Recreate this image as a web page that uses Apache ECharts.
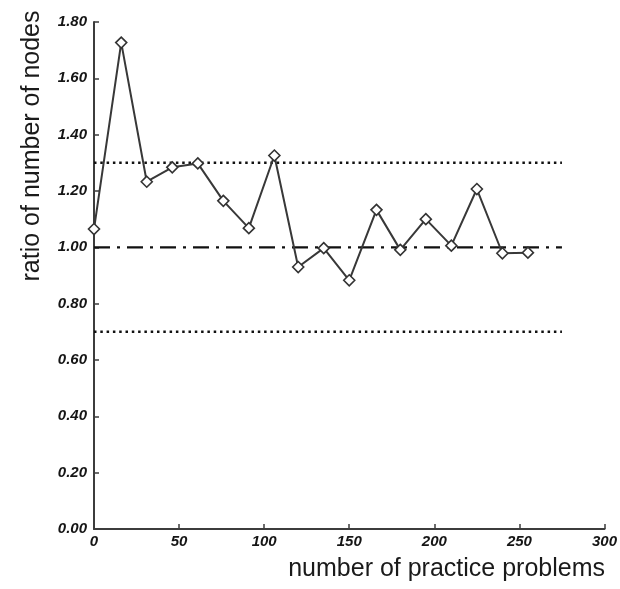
<!DOCTYPE html>
<html>
<head>
<meta charset="utf-8">
<script src="https://cdn.jsdelivr.net/npm/echarts@6/dist/echarts.min.js"></script>
<style>
  html, body { margin: 0; padding: 0; background: #fff; }
  #chart { width: 620px; height: 589px; }
</style>
</head>
<body>
<div id="chart"></div>
<script>
// Practice problems solved (x) and node-count ratio (y)
const practiceProblems = [0, 16, 31, 46, 61, 76, 91, 106, 120, 135, 150, 166, 180, 195, 210, 225, 240, 255];
const nodeRatio = [1.065, 1.727, 1.233, 1.284, 1.298, 1.165, 1.068, 1.326, 0.930, 0.997, 0.883, 1.133, 0.991, 1.100, 1.006, 1.207, 0.979, 0.981];

// Reference levels drawn across the measured range
const refStart = 0;
const refEnd = 275;
const upperBound = 1.3;
const baseline = 1.0;
const lowerBound = 0.7;

const xTicks = { min: 0, max: 300, interval: 50 };
const yTicks = { min: 0, max: 1.8, interval: 0.2 };

const axisColor = '#3c3c3c';
const labelFont = {
  fontFamily: '"Liberation Sans", Arial, Helvetica, sans-serif',
  fontSize: 15,
  fontWeight: 'bold',
  fontStyle: 'italic',
  color: '#151515'
};

const chart = echarts.init(document.getElementById('chart'));

function refLine(y, dash, width) {
  return {
    type: 'line',
    data: [[refStart, y], [refEnd, y]],
    symbol: 'none',
    silent: true,
    lineStyle: { color: '#111111', width: width, type: dash },
    z: 1
  };
}

chart.setOption({
  backgroundColor: '#fff',
  animation: false,
  grid: { left: 94, right: 13, top: 22, bottom: 60, containLabel: false },
  xAxis: {
    type: 'value',
    min: xTicks.min,
    max: xTicks.max,
    interval: xTicks.interval,
    axisLine: { show: true, lineStyle: { color: axisColor, width: 2 } },
    axisTick: { show: true, inside: true, length: 5, lineStyle: { color: axisColor, width: 1.5 } },
    axisLabel: Object.assign({ margin: 5 }, labelFont),
    splitLine: { show: false }
  },
  yAxis: {
    type: 'value',
    min: yTicks.min,
    max: yTicks.max,
    interval: yTicks.interval,
    axisLine: { show: true, lineStyle: { color: axisColor, width: 2 } },
    axisTick: { show: true, inside: true, length: 5, lineStyle: { color: axisColor, width: 1.5 } },
    axisLabel: Object.assign({ margin: 7, formatter: v => v.toFixed(2) }, labelFont),
    splitLine: { show: false }
  },
  graphic: [
    {
      type: 'text',
      x: 32,
      y: 146,
      rotation: Math.PI / 2,
      style: {
        text: 'ratio of number of nodes',
        fontFamily: '"Liberation Sans", Arial, Helvetica, sans-serif',
        fontSize: 25,
        fill: '#1a1a1a',
        align: 'center',
        verticalAlign: 'middle'
      }
    },
    {
      type: 'text',
      x: 605,
      y: 569,
      style: {
        text: 'number of practice problems',
        fontFamily: '"Liberation Sans", Arial, Helvetica, sans-serif',
        fontSize: 25,
        fill: '#1a1a1a',
        align: 'right',
        verticalAlign: 'middle'
      }
    }
  ],
  series: [
    refLine(upperBound, [2.5, 3.8], 2.5),
    refLine(lowerBound, [2.5, 3.8], 2.5),
    refLine(baseline, [16, 7, 3, 7], 2.2),
    {
      type: 'line',
      data: practiceProblems.map((x, i) => [x, nodeRatio[i]]),
      symbol: 'diamond',
      symbolSize: 11,
      showAllSymbol: true,
      lineStyle: { color: '#383838', width: 2 },
      itemStyle: { color: '#ffffff', borderColor: '#333333', borderWidth: 1.6 },
      z: 3
    }
  ]
});
</script>
</body>
</html>
